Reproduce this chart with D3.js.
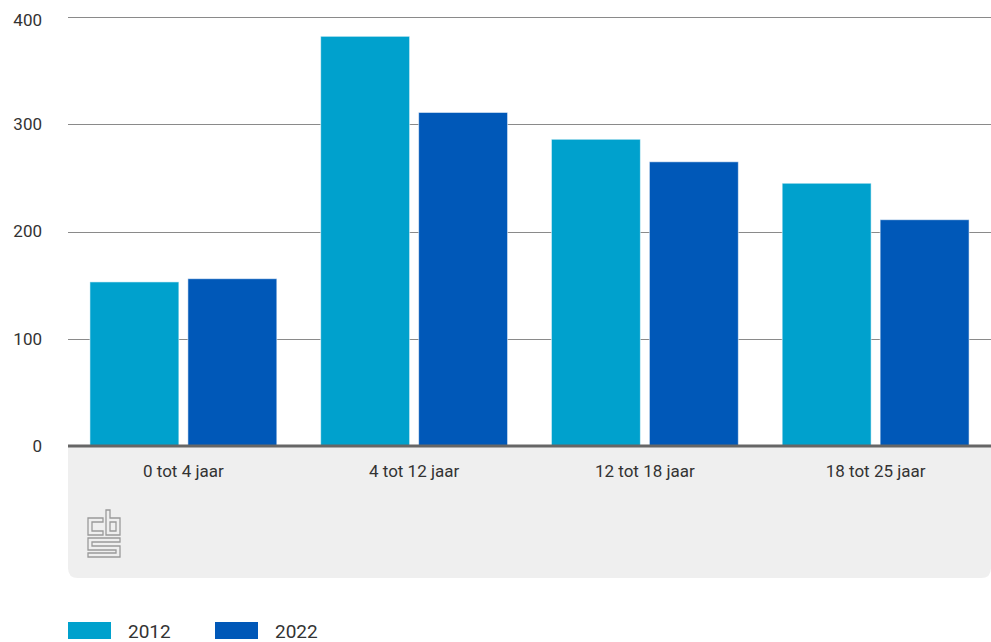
<!DOCTYPE html>
<html>
<head>
<meta charset="utf-8">
<script src="https://cdn.jsdelivr.net/npm/d3@7"></script>
<style>
  html, body { margin: 0; padding: 0; background: #fff; }
  svg { display: block; font-family: Roboto, "Noto Sans", sans-serif; }
</style>
</head>
<body>
<svg id="chart" width="991" height="642"></svg>
<script>
const categories = ["0 tot 4 jaar", "4 tot 12 jaar", "12 tot 18 jaar", "18 tot 25 jaar"];
const seriesNames = ["2012", "2022"];
const values2012 = [153, 382, 286, 245];
const values2022 = [156, 311, 265, 211];
const yTicks = [0, 100, 200, 300, 400];
const colors = ["#00a1cd", "#0058b8"];

(function () {
const seriesValues = [values2012, values2022];
const svg = d3.select("#chart");
const left = 68, right = 991, plotTop = 17, base = 446;

const y = d3.scaleLinear().domain([0, 400]).range([base, plotTop]);
const x0 = d3.scaleBand().domain(categories).range([left, right]).paddingInner(0.19).paddingOuter(0.095);
const x1 = d3.scaleBand().domain(seriesNames).range([0, x0.bandwidth()]).paddingInner(0.092);

// grey area under axis
const gb = 578, r = 10;
svg.append("path")
  .attr("d", `M${left},${base} H${right} V${gb - r} Q${right},${gb} ${right - r},${gb} H${left + r} Q${left},${gb} ${left},${gb - r} Z`)
  .attr("fill", "#efefef");

// gridlines
svg.append("g").selectAll("line").data(yTicks.filter(d => d > 0)).join("line")
  .attr("x1", left).attr("x2", right)
  .attr("y1", d => Math.round(y(d)) + 0.5).attr("y2", d => Math.round(y(d)) + 0.5)
  .attr("stroke", "#8a8a8a").attr("stroke-width", 1);

// y tick labels
svg.append("g").selectAll("text").data(yTicks).join("text")
  .attr("x", 42).attr("y", d => Math.max(y(d), 20))
  .attr("dy", "0.35em")
  .attr("text-anchor", "end")
  .attr("font-size", 17).attr("fill", "#333")
  .text(d => d);

// bars
const groups = svg.append("g").selectAll("g").data(categories).join("g")
  .attr("transform", d => `translate(${x0(d)},0)`);
groups.selectAll("rect").data((d, i) => seriesNames.map((s, j) => ({ s, v: seriesValues[j][i], j })))
  .join("rect")
  .attr("x", d => x1(d.s))
  .attr("y", d => y(d.v))
  .attr("width", x1.bandwidth())
  .attr("height", d => y(0) - y(d.v))
  .attr("fill", d => colors[d.j])
  .attr("stroke", "rgba(255,255,255,0.55)")
  .attr("stroke-width", 1);

// baseline
svg.append("line").attr("x1", left).attr("x2", right)
  .attr("y1", base).attr("y2", base)
  .attr("stroke", "#666").attr("stroke-width", 3);

// category labels
svg.append("g").selectAll("text").data(categories).join("text")
  .attr("x", d => x0(d) + x0.bandwidth() / 2)
  .attr("y", 477)
  .attr("text-anchor", "middle")
  .attr("font-size", 17).attr("fill", "#333")
  .text(d => d);

// CBS logo
const logo = svg.append("g").attr("transform", "translate(88,510)")
  .attr("fill", "none").attr("stroke", "#9a9a9a").attr("stroke-width", 1.3);
logo.append("path").attr("d", "M15,8 H0 V25 H15 V21 H4 V12 H15 Z");
logo.append("path").attr("d", "M18,0 H22 V8 H32 V25 H18 Z M22,12 H28 V21 H22 Z");
logo.append("path").attr("d", "M0,28 H32 V32 H4 V36 H32 V47 H0 V43 H28 V40 H0 Z");

// legend
const lg = svg.append("g");
const legX = [68, 215];
seriesNames.forEach((s, i) => {
  lg.append("rect").attr("x", legX[i]).attr("y", 622).attr("width", 43).attr("height", 17).attr("fill", colors[i]);
  lg.append("text").attr("x", legX[i] + 60).attr("y", 638).attr("font-size", 19).attr("fill", "#333").text(s);
});
})();
</script>
</body>
</html>
